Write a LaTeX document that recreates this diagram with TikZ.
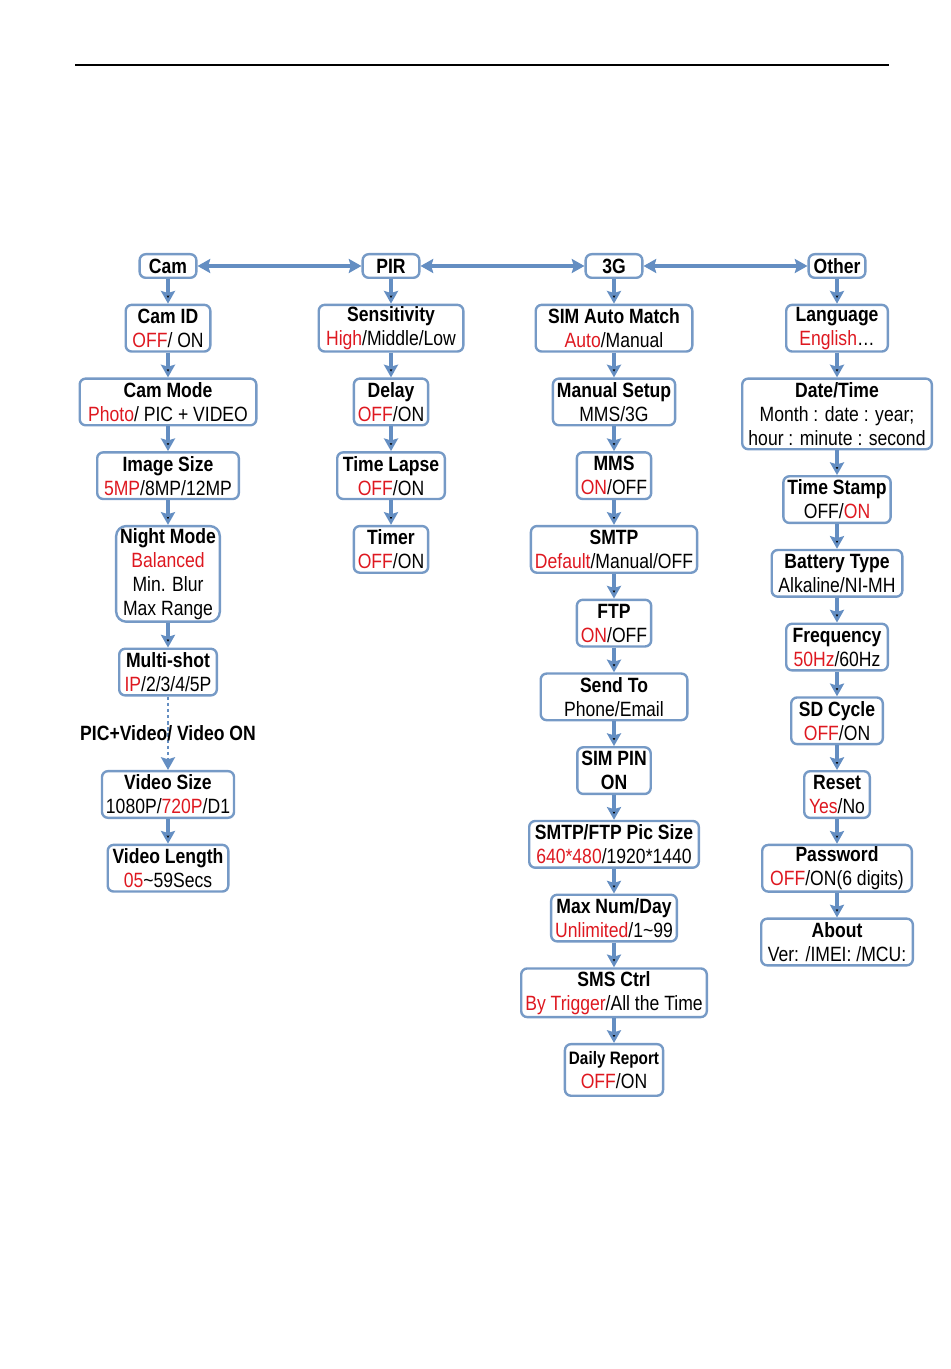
\documentclass[tikz,border=0pt]{standalone}
\usepackage{fontspec}
\setmainfont{Liberation Sans}[FakeStretch=0.85]
\usetikzlibrary{positioning,arrows.meta}
\definecolor{boxblue}{RGB}{118,154,198}
\definecolor{lineblue}{RGB}{100,142,194}
\definecolor{optred}{RGB}{222,24,32}
\newcommand{\opt}[1]{\textcolor{optred}{#1}}

\begin{document}
\begin{tikzpicture}[x=0.75pt,y=0.75pt,node distance=18.5pt,
  box/.style={draw=boxblue,line width=1.8pt,rounded corners=4.5pt,align=center,inner xsep=3pt,inner ysep=0pt,minimum height=35pt,font=\fontsize{15.5}{18}\selectfont},
  head/.style={box,minimum height=17.7pt,minimum width=42.5pt,font=\fontsize{15.5}{18}\selectfont\bfseries},
  wd/.style={minimum width=#1*0.75pt-1.8pt},
  ht/.style={minimum height=#1*0.75pt-1.8pt},
  arr/.style={draw=lineblue,line width=2.6pt,-{Stealth[length=9.5pt,width=10.5pt,inset=1.5pt]}},
  twoway/.style={arr,{Stealth[length=9.5pt,width=10.5pt,inset=1.5pt]}-{Stealth[length=9.5pt,width=10.5pt,inset=1.5pt]}},
  lbl/.style={font=\fontsize{15.5}{18}\selectfont\bfseries}]
\useasboundingbox (0,0) rectangle (950,-1369);
\draw[line width=0.9pt] (75,-65) -- (889,-65);

\node[head] (cam) at (168,-266) {Cam};
\node[head] (pir) at (391,-266) {PIR};
\node[head] (g3) at (614,-266) {3G};
\node[head] (other) at (837,-266) {Other};

\node[box,wd=87,below=of cam] (camid) {\textbf{Cam ID}\\\opt{OFF}/ ON};
\node[box,wd=179,below=of camid] (cammode) {\textbf{Cam Mode}\\\opt{Photo}/ PIC + VIDEO};
\node[box,wd=144,below=of cammode] (imgsize) {\textbf{Image Size}\\\opt{5MP}/8MP/12MP};
\node[box,wd=104,ht=98,rounded corners=7.5pt,below=of imgsize] (night) {\textbf{Night Mode}\\\opt{Balanced}\\Min. Blur\\Max Range};
\node[box,wd=100,below=of night] (multi) {\textbf{Multi-shot}\\\opt{IP}/2/3/4/5P};
\node[box,wd=134,below=55pt of multi] (vidsize) {\textbf{Video Size}\\1080P/\opt{720P}/D1};
\node[box,wd=123,below=of vidsize] (vidlen) {\textbf{Video Length}\\\opt{05}\textasciitilde59Secs};

\node[box,wd=147,below=of pir] (sens) {\textbf{Sensitivity}\\\opt{High}/Middle/Low};
\node[box,wd=74,below=of sens] (delay) {\textbf{Delay}\\\opt{OFF}/ON};
\node[box,wd=110,below=of delay] (lapse) {\textbf{Time Lapse}\\\opt{OFF}/ON};
\node[box,wd=72,below=of lapse] (timer) {\textbf{Timer}\\\opt{OFF}/ON};

\node[box,wd=159,below=of g3] (simauto) {\textbf{SIM Auto Match}\\\opt{Auto}/Manual};
\node[box,wd=121,below=of simauto] (manual) {\textbf{Manual Setup}\\MMS/3G};
\node[box,wd=72,below=of manual] (mms) {\textbf{MMS}\\\opt{ON}/OFF};
\node[box,wd=166,below=of mms] (smtp) {\textbf{SMTP}\\\opt{Default}/Manual/OFF};
\node[box,wd=72,below=of smtp] (ftp) {\textbf{FTP}\\\opt{ON}/OFF};
\node[box,wd=149,below=of ftp] (sendto) {\textbf{Send To}\\Phone/Email};
\node[box,wd=72,below=of sendto] (simpin) {\textbf{SIM PIN}\\\textbf{ON}};
\node[box,wd=172,below=of simpin] (picsize) {\textbf{SMTP/FTP Pic Size}\\\opt{640*480}/1920*1440};
\node[box,wd=127,below=of picsize] (maxnum) {\textbf{Max Num/Day}\\\opt{Unlimited}/1\textasciitilde99};
\node[box,wd=188,ht=51,below=of maxnum] (smsctrl) {\textbf{SMS Ctrl}\\\opt{By Trigger}/All the Time};
\node[box,wd=100,ht=54,below=of smsctrl] (daily) {{\fontsize{13.5}{16}\selectfont\bfseries Daily Report}\\\opt{OFF}/ON};

\node[box,wd=104,below=of other] (lang) {\textbf{Language}\\\opt{English}\ldots};
\node[box,wd=192,ht=73,below=of lang] (datetime) {\textbf{Date/Time}\\Month : date : year;\\hour : minute : second};
\node[box,wd=107,below=of datetime] (stamp) {\textbf{Time Stamp}\\OFF/\opt{ON}};
\node[box,wd=133,below=of stamp] (battery) {\textbf{Battery Type}\\Alkaline/NI-MH};
\node[box,wd=104,below=of battery] (freq) {\textbf{Frequency}\\\opt{50Hz}/60Hz};
\node[box,wd=94,below=of freq] (sdcycle) {\textbf{SD Cycle}\\\opt{OFF}/ON};
\node[box,wd=68,below=of sdcycle] (reset) {\textbf{Reset}\\\opt{Yes}/No};
\node[box,wd=152,below=of reset] (passwd) {\textbf{Password}\\\opt{OFF}/ON(6 digits)};
\node[box,wd=154,below=of passwd] (about) {\textbf{About}\\Ver: /IMEI: /MCU:};

\draw[twoway] (cam) -- (pir);
\draw[twoway] (pir) -- (g3);
\draw[twoway] (g3) -- (other);

\draw[arr] (cam) edge (camid) (camid) edge (cammode) (cammode) edge (imgsize)
  (imgsize) edge (night) (night) edge (multi) (vidsize) edge (vidlen);
\draw[arr,dotted,line width=1.8pt] (multi) -- node[lbl] (vidcond) {PIC+Video/ Video ON} (vidsize);
\draw[arr] (pir) edge (sens) (sens) edge (delay) (delay) edge (lapse) (lapse) edge (timer);
\draw[arr] (g3) edge (simauto) (simauto) edge (manual) (manual) edge (mms) (mms) edge (smtp)
  (smtp) edge (ftp) (ftp) edge (sendto) (sendto) edge (simpin) (simpin) edge (picsize)
  (picsize) edge (maxnum) (maxnum) edge (smsctrl) (smsctrl) edge (daily);
\draw[arr] (other) edge (lang) (lang) edge (datetime) (datetime) edge (stamp) (stamp) edge (battery)
  (battery) edge (freq) (freq) edge (sdcycle) (sdcycle) edge (reset) (reset) edge (passwd)
  (passwd) edge (about);
\end{tikzpicture}
\end{document}
